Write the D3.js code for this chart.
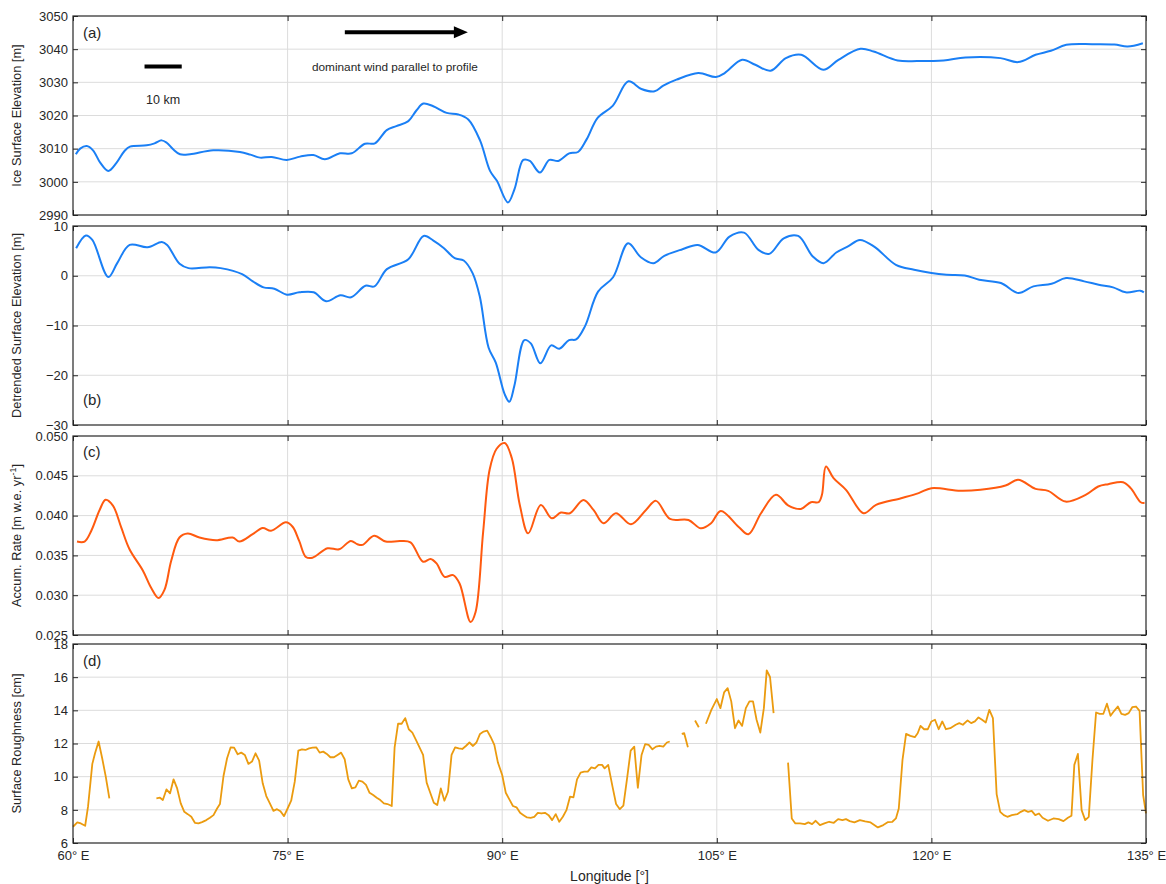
<!DOCTYPE html>
<html>
<head>
<meta charset="utf-8">
<script src="https://cdn.jsdelivr.net/npm/d3@7"></script>
<style>
  body { margin: 0; background: #fff; }
  text { font-family: "Liberation Sans", Arial, sans-serif; fill: #262626; }
</style>
</head>
<body>
<div id="chart"></div>
<script>
// panel (a) ice surface elevation
const lonA = [60.2,60.5,60.96,61.4,61.9,62.47,63.05,63.6,63.98,65.15,65.7,66.2,66.55,67.0,67.48,68.18,69.8,71.67,72.4,73.07,73.89,74.94,75.87,76.8,77.6,78.66,79.48,80.41,81.1,81.93,82.6,83.44,84.0,84.49,85.18,86.12,86.93,87.63,88.45,89.15,89.63,90.4,90.86,91.47,91.93,92.63,93.3,93.92,94.68,95.3,95.9,96.67,97.74,98.82,99.73,100.65,101.26,102.18,103.71,104.94,105.55,106.77,107.69,108.76,109.83,110.9,112.44,113.5,115.04,115.96,117.64,119.02,120.85,122.38,124.83,126.06,127.28,128.35,129.43,131.26,132.79,133.71,134.78];
const elevA = [3008.3,3010.0,3010.8,3009.5,3005.8,3003.3,3005.8,3009.3,3010.6,3011,3011.6,3012.5,3011.8,3009.8,3008.3,3008.3,3009.5,3009,3008.2,3007.3,3007.5,3006.6,3007.6,3008.1,3006.8,3008.6,3008.6,3011.5,3011.6,3015.6,3016.8,3018.3,3021.5,3023.6,3022.8,3020.8,3020.3,3018.8,3012.5,3003.3,3000.3,2993.8,2997.8,3006.6,3006.3,3002.8,3006.6,3006.3,3008.6,3009,3012.8,3019.3,3023,3030.3,3028,3027.3,3029,3030.8,3032.8,3031.6,3032.8,3036.8,3035.3,3033.5,3037.3,3038.3,3033.8,3036.8,3040.1,3039.3,3036.6,3036.4,3036.6,3037.5,3037.3,3036.1,3038.3,3039.5,3041.3,3041.5,3041.4,3040.8,3041.8];

// panel (b) detrended surface elevation
const lonB = [60.22,60.9,61.35,62.47,63.09,63.96,65.21,66.21,66.58,67.45,68.07,69.57,70.32,71.82,72.57,73.32,74.07,74.95,75.82,76.82,77.69,78.69,79.44,80.44,81.07,81.94,83.44,84.51,85.19,85.93,86.68,87.31,87.93,88.43,89.05,89.55,90.17,90.5,90.85,91.55,92.0,92.67,93.42,93.99,94.67,95.17,95.79,96.7,97.75,98.8,99.69,100.57,101.33,102.6,103.66,104.92,105.89,106.9,107.91,108.67,109.68,110.69,111.71,112.46,113.35,114.23,115.0,116.0,117.52,118.79,120.0,121.06,122.33,123.34,124.86,126.07,127.13,128.4,129.41,130.68,131.69,132.7,133.58,134.6,134.85];
const detrB = [5.53,8.07,7.2,-0.27,2.53,6.2,5.73,6.8,6.2,2.4,1.53,1.73,1.53,0.33,-1.13,-2.33,-2.6,-3.8,-3.33,-3.33,-5.13,-3.93,-4.33,-2,-2.13,1.33,3.33,8,7.07,5.53,3.53,3.07,0.53,-4.13,-14.47,-17.47,-23.8,-25.33,-22.13,-12.93,-13.6,-17.6,-14,-14.67,-12.93,-12.8,-10.13,-3.2,-0.3,6.53,3.73,2.53,4,5.33,6.2,4.67,7.87,8.67,5.2,4.4,7.53,8,3.87,2.53,4.67,6,7.2,5.87,2.2,1.2,0.53,0.2,0.07,-0.8,-1.47,-3.47,-2.13,-1.6,-0.47,-1.13,-1.8,-2.33,-3.33,-3,-3.33];

// panel (c) accumulation rate
const lonC = [60.28,60.81,61.28,61.86,62.28,62.79,63.37,63.95,64.88,65.47,65.98,66.4,66.86,67.44,68.02,68.84,70.0,71.16,71.63,72.56,73.26,73.84,74.88,75.35,75.81,76.28,76.74,77.79,78.6,79.42,79.88,80.23,81.05,81.86,82.89,83.59,84.47,84.99,85.41,85.97,86.57,87.02,87.79,88.14,88.67,89.12,89.61,90.18,90.67,91.23,91.82,92.7,93.47,94.1,94.73,95.68,96.38,97.08,97.95,99.0,100.05,100.75,101.73,103.02,103.88,104.6,105.28,106.51,107.21,108.09,109.13,110.01,110.88,111.58,112.11,112.35,112.63,113.16,114.03,115.26,116.13,117.88,119.11,120.0,122.03,123.43,125.18,126.06,127.28,128.16,129.38,130.78,131.66,132.36,133.4,133.93,134.63,134.9];
const accumC = [0.03674,0.03674,0.0381,0.0407,0.0420,0.04126,0.03851,0.03577,0.03311,0.03091,0.02965,0.0307,0.03429,0.03725,0.03775,0.03725,0.03691,0.03725,0.03674,0.03767,0.03843,0.03809,0.03915,0.0386,0.03682,0.0348,0.03471,0.03589,0.03577,0.03682,0.0364,0.03632,0.03746,0.03674,0.03681,0.03664,0.0342,0.03454,0.03399,0.03231,0.03252,0.03147,0.02664,0.0279,0.03798,0.04576,0.0484,0.04912,0.04723,0.04134,0.03777,0.04134,0.03966,0.04038,0.0403,0.04197,0.04071,0.03903,0.0403,0.03891,0.04071,0.04185,0.03958,0.03945,0.0384,0.03903,0.04059,0.03861,0.03765,0.0403,0.04261,0.04126,0.04084,0.04168,0.04168,0.04261,0.04618,0.04471,0.04324,0.0403,0.04134,0.04218,0.04282,0.04345,0.04311,0.04324,0.04378,0.0445,0.04336,0.04311,0.04176,0.04261,0.04366,0.04395,0.0442,0.04345,0.04168,0.0416];

// panel (d) surface roughness (null = gap)
const lonD = [60.0,60.3,60.55,60.85,61.05,61.35,61.54,61.79,62.04,62.29,62.54,64.0,
  65.83,66.08,66.28,66.53,66.78,67.03,67.28,67.53,67.78,68.02,68.27,68.52,68.77,69.02,69.32,69.57,69.82,70.07,70.27,70.52,70.77,71.02,71.26,71.51,71.76,72.01,72.26,72.51,72.76,73.01,73.26,73.51,73.76,74.01,74.26,74.5,74.75,75.0,75.25,75.5,75.75,76.0,76.25,76.5,76.75,77.0,77.24,77.49,77.74,77.99,78.24,78.49,78.74,78.99,79.24,79.49,79.74,79.98,80.23,80.48,80.73,80.98,81.23,81.48,81.73,81.98,82.28,82.48,82.72,82.97,83.22,83.47,83.72,83.97,84.22,84.47,84.72,84.97,85.22,85.46,85.71,85.96,86.21,86.46,86.71,86.96,87.21,87.46,87.71,87.96,88.2,88.45,88.7,88.95,89.2,89.45,89.7,90.0,90.25,90.5,90.75,91.0,91.25,91.49,91.74,91.99,92.24,92.49,92.74,92.99,93.24,93.49,93.74,93.99,94.24,94.49,94.74,94.98,95.23,95.48,95.73,95.98,96.23,96.48,96.73,96.98,97.16,97.41,97.71,97.96,98.22,98.47,98.72,98.98,99.23,99.48,99.74,99.99,100.24,100.5,100.75,101.0,101.26,101.51,101.71,102.1,
  102.55,102.72,102.98,103.2,103.48,103.74,104.0,
  104.24,104.62,105.0,105.25,105.51,105.76,106.01,106.27,106.52,106.77,107.03,107.28,107.53,107.78,108.04,108.29,108.49,108.72,108.97,109.5,
  109.98,110.24,110.49,110.82,111.15,111.4,111.66,111.91,112.21,112.52,112.85,113.18,113.48,113.78,114.03,114.29,114.62,115.0,115.37,115.75,116.26,116.64,116.97,117.27,117.52,117.72,117.98,118.23,118.53,118.84,119.04,119.24,119.49,119.75,120.0,120.25,120.51,120.76,121.01,121.32,121.7,121.95,122.2,122.53,122.78,123.04,123.29,123.54,123.8,124.05,124.3,124.56,124.81,125.06,125.31,125.62,126.0,126.25,126.5,126.76,127.01,127.26,127.52,127.77,128.15,128.53,128.9,129.23,129.54,129.79,129.99,130.24,130.5,130.75,131.0,131.26,131.51,131.76,132.02,132.27,132.52,132.78,133.03,133.28,133.54,133.79,134.04,134.3,134.55,134.8,135.0];
const roughD = [6.98,7.24,7.18,7.04,8.19,10.77,11.41,12.12,11.11,10.0,8.69,null,
  8.69,8.73,8.59,9.23,8.99,9.84,9.29,8.39,7.88,7.74,7.58,7.22,7.18,7.26,7.38,7.52,7.68,8.08,8.35,10.04,11.11,11.77,11.75,11.35,11.45,11.31,10.77,10.91,11.41,10.97,9.6,8.83,8.39,7.94,8.04,7.92,7.62,8.08,8.55,9.7,11.57,11.65,11.61,11.71,11.75,11.77,11.45,11.51,11.37,11.17,11.17,11.31,11.45,11.05,9.84,9.29,9.35,9.76,9.7,9.5,9.03,8.89,8.73,8.59,8.39,8.35,8.23,11.77,13.19,13.19,13.53,12.86,12.66,12.22,11.77,11.31,9.64,9.03,8.43,8.29,9.29,8.55,9.09,11.31,11.77,11.71,11.67,11.85,12.06,11.85,12.06,12.58,12.72,12.78,12.38,11.92,10.85,10.1,9.03,8.63,8.23,8.15,7.82,7.68,7.54,7.52,7.58,7.82,7.78,7.82,7.68,7.38,7.74,7.28,7.58,7.98,8.79,8.75,9.84,10.24,10.3,10.3,10.56,10.5,10.71,10.71,10.5,10.71,9.4,8.35,8.04,8.25,9.84,11.57,11.81,9.33,11.31,11.96,11.92,11.65,11.81,11.85,11.81,12.06,12.12,null,
  12.58,12.62,11.77,null,13.39,12.98,null,
  13.19,14.03,14.68,14.13,15.08,15.34,14.54,12.92,13.39,13.06,14.13,14.54,14.54,13.43,12.66,14.13,16.41,16.01,13.83,null,
  10.85,7.48,7.18,7.18,7.14,7.24,7.14,7.34,7.08,7.18,7.28,7.22,7.44,7.38,7.44,7.32,7.24,7.38,7.3,7.24,6.94,7.08,7.26,7.28,7.48,8.08,11.01,12.58,12.46,12.38,12.62,13.06,12.86,12.86,13.33,13.43,12.86,13.33,12.86,12.92,13.13,13.23,13.13,13.39,13.23,13.33,13.57,13.43,13.27,14.03,13.53,8.95,7.88,7.68,7.58,7.68,7.74,7.88,7.98,7.88,7.94,7.68,7.78,7.52,7.34,7.48,7.44,7.32,7.52,7.64,10.71,11.37,7.98,7.38,7.58,11.05,13.87,13.79,13.79,14.4,13.67,13.97,14.23,13.79,13.73,13.83,14.19,14.23,13.97,8.89,7.78];

const lonTicks = [60, 75, 90, 105, 120, 135];

const panels = [
  { id: "(a)", lon: lonA, val: elevA, domain: [2990, 3050], ticks: [2990, 3000, 3010, 3020, 3030, 3040, 3050], fmt: d3.format("d"), color: "#1a7ff5", label: ["Ice Surface Elevation [m]"], curve: d3.curveCatmullRom, letterY: 22 },
  { id: "(b)", lon: lonB, val: detrB, domain: [-30, 10], ticks: [-30, -20, -10, 0, 10], fmt: d3.format("d"), color: "#1a7ff5", label: ["Detrended Surface Elevation [m]"], curve: d3.curveCatmullRom, letterY: 179 },
  { id: "(c)", lon: lonC, val: accumC, domain: [0.025, 0.050], ticks: [0.025, 0.030, 0.035, 0.040, 0.045, 0.050], fmt: d3.format(".3f"), color: "#ff5a0f", label: null, curve: d3.curveCatmullRom, letterY: 21 },
  { id: "(d)", lon: lonD, val: roughD, domain: [6, 18], ticks: [6, 8, 10, 12, 14, 16, 18], fmt: d3.format("d"), color: "#eb9b0f", label: ["Surface Roughness [cm]"], curve: d3.curveLinear, letterY: 22 }
];

const W = 1166, H = 884;
const left = 73, right = 1146;
const tops = [16, 226, 436, 644], ph = 199;

const svg = d3.select("#chart").append("svg").attr("width", W).attr("height", H);

const x = d3.scaleLinear().domain([60, 135]).range([left, right]);

panels.forEach((p, k) => {
  const top = tops[k];
  const y = d3.scaleLinear().domain(p.domain).range([top + ph, top]);
  const g = svg.append("g");

  // grid
  g.selectAll(".gx").data(lonTicks.slice(1, -1)).enter().append("line")
    .attr("x1", d => x(d)).attr("x2", d => x(d))
    .attr("y1", top).attr("y2", top + ph)
    .attr("stroke", "#dcdcdc").attr("stroke-width", 1);
  g.selectAll(".gy").data(p.ticks.slice(1, -1)).enter().append("line")
    .attr("x1", left).attr("x2", right)
    .attr("y1", d => y(d)).attr("y2", d => y(d))
    .attr("stroke", "#dcdcdc").attr("stroke-width", 1);

  // data line
  const line = d3.line()
    .defined((d, i) => p.val[i] !== null)
    .x((d, i) => x(p.lon[i]))
    .y((d, i) => y(p.val[i]))
    .curve(p.curve);
  g.append("path").datum(p.lon)
    .attr("d", line)
    .attr("fill", "none")
    .attr("stroke", p.color)
    .attr("stroke-width", k === 3 ? 1.8 : 2)
    .attr("stroke-linejoin", "round");

  // axes, MATLAB-like inward ticks
  g.append("g").attr("transform", `translate(${left},0)`)
    .call(d3.axisLeft(y).tickValues(p.ticks).tickFormat(p.fmt).tickSizeInner(-5).tickSizeOuter(0).tickPadding(5))
    .call(a => a.select(".domain").remove());
  g.append("g").attr("transform", `translate(${right},0)`)
    .call(d3.axisRight(y).tickValues(p.ticks).tickFormat("").tickSizeInner(-5).tickSizeOuter(0))
    .call(a => a.select(".domain").remove());
  g.append("g").attr("transform", `translate(0,${top + ph})`)
    .call(d3.axisBottom(x).tickValues(lonTicks).tickFormat(k === 3 ? d => d + "\u00b0 E" : "").tickSizeInner(-5).tickSizeOuter(0).tickPadding(8))
    .call(a => a.select(".domain").remove());
  g.append("g").attr("transform", `translate(0,${top})`)
    .call(d3.axisTop(x).tickValues(lonTicks).tickFormat("").tickSizeInner(-5).tickSizeOuter(0))
    .call(a => a.select(".domain").remove());
  g.selectAll(".tick line").attr("stroke", "#262626");
  g.selectAll(".tick text").attr("font-size", 13).attr("fill", "#262626")
    .attr("font-family", "Liberation Sans, Arial, sans-serif");

  g.append("rect").attr("x", left).attr("y", top).attr("width", right - left).attr("height", ph)
    .attr("fill", "none").attr("stroke", "#262626").attr("stroke-width", 1.2);

  // panel letter
  g.append("text").attr("x", left + 10).attr("y", top + p.letterY)
    .attr("font-size", 15).text(p.id);

  // y label
  const yl = g.append("text")
    .attr("transform", `translate(21,${top + ph / 2}) rotate(-90)`)
    .attr("text-anchor", "middle").attr("font-size", 12.8);
  if (p.label) {
    yl.text(p.label[0]);
  } else {
    yl.append("tspan").text("Accum. Rate [m w.e. yr");
    yl.append("tspan").attr("font-size", 9).attr("dy", -5).text("-1");
    yl.append("tspan").attr("dy", 5).text("]");
  }

  if (k === 0) {
    // wind arrow
    const ay = y(3045.1), ax0 = x(79.0), ax1 = x(87.6);
    g.append("line").attr("x1", ax0).attr("x2", ax1 - 12).attr("y1", ay).attr("y2", ay)
      .attr("stroke", "#000").attr("stroke-width", 4);
    g.append("path").attr("d", `M${ax1},${ay} L${ax1 - 14},${ay - 6} L${ax1 - 14},${ay + 6} Z`).attr("fill", "#000");
    g.append("text").attr("x", x(82.5)).attr("y", y(3034.5) + 4)
      .attr("text-anchor", "middle").attr("font-size", 11.8).text("dominant wind parallel to profile");
    // 10 km scale bar
    g.append("line").attr("x1", x(65.0)).attr("x2", x(67.6)).attr("y1", y(3034.8)).attr("y2", y(3034.8))
      .attr("stroke", "#000").attr("stroke-width", 4);
    g.append("text").attr("x", x(66.3)).attr("y", y(3024.8) + 4)
      .attr("text-anchor", "middle").attr("font-size", 12.5).text("10 km");
  }
});

svg.append("text").attr("x", (left + right) / 2).attr("y", 881)
  .attr("text-anchor", "middle").attr("font-size", 14).text("Longitude [\u00b0]");
</script>
</body>
</html>
